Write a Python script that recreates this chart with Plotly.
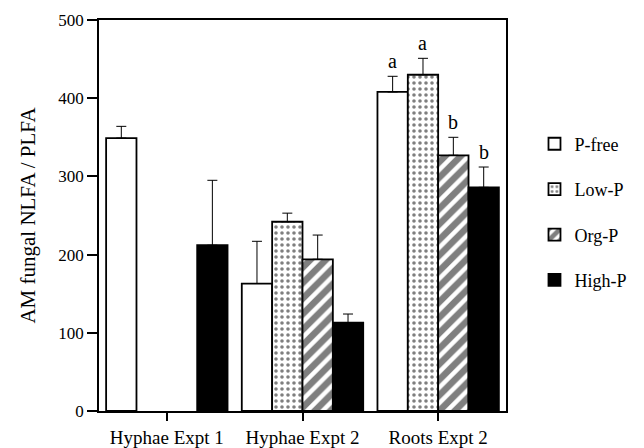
import plotly.graph_objects as go

groups = ["Hyphae Expt 1", "Hyphae Expt 2", "Roots Expt 2"]
treatments = ["P-free", "Low-P", "Org-P", "High-P"]
means = {
    "P-free": [349, 163, 408],
    "Low-P": [None, 242, 430],
    "Org-P": [None, 194, 327],
    "High-P": [212, 113, 286],
}
errors = {
    "P-free": [15, 54, 20],
    "Low-P": [0, 11, 21],
    "Org-P": [0, 31, 23],
    "High-P": [83, 11, 26],
}
letters_group = 2
letters = ["a", "a", "b", "b"]

FONT = "Liberation Serif"
bargap = 0.105
styles = {
    "P-free": dict(color="white", pattern=None),
    "Low-P": dict(color="white", pattern=dict(shape=".", fgcolor="black", bgcolor="white", size=6, solidity=0.28, fillmode="overlay")),
    "Org-P": dict(color="white", pattern=dict(shape="/", fgcolor="black", bgcolor="white", size=11, solidity=0.6, fillmode="overlay")),
    "High-P": dict(color="black", pattern=None),
}

fig = go.Figure()
for i, t in enumerate(treatments):
    st = styles[t]
    marker = dict(color=st["color"], line=dict(color="black", width=1.8))
    if st["pattern"]:
        marker["pattern"] = st["pattern"]
    fig.add_trace(go.Bar(
        x=groups, y=means[t], name=t, marker=marker,
        legendgroup=t,
        error_y=dict(type="data", symmetric=False, array=errors[t],
                     arrayminus=[0] * len(groups), color="black",
                     thickness=1, width=5),
    ))

bw = (1 - bargap) / len(treatments)
for i, (t, lab) in enumerate(zip(treatments, letters)):
    v = means[t][letters_group] + errors[t][letters_group]
    fig.add_annotation(x=letters_group + (i - 1.5) * bw, y=v, text=lab,
                       showarrow=False, yanchor="bottom", yshift=2,
                       font=dict(family=FONT, size=20, color="black"))

fig.update_layout(
    width=644, height=448,
    margin=dict(l=99, r=133, t=20, b=37),
    plot_bgcolor="white", paper_bgcolor="white",
    barmode="group", bargap=bargap, bargroupgap=0,
    font=dict(family=FONT, size=17, color="black"),
    showlegend=True,
    legend=dict(x=1.07, y=0.73, xanchor="left", yanchor="top",
                font=dict(family=FONT, size=18), tracegroupgap=19,
                bgcolor="rgba(0,0,0,0)"),
)
fig.update_xaxes(
    showline=True, linecolor="black", linewidth=1.5, mirror=True,
    ticks="outside", ticklen=8, tickcolor="black", tickwidth=1.5,
    range=[-0.5, 2.5], showgrid=False, automargin=False,
    tickfont=dict(family=FONT, size=19),
)
fig.update_yaxes(
    range=[0, 500], tickvals=[0, 100, 200, 300, 400, 500],
    showline=True, linecolor="black", linewidth=1.5, mirror=True,
    ticks="outside", ticklen=10, tickcolor="black", tickwidth=1.5,
    showgrid=False, zeroline=False, automargin=False,
    tickfont=dict(family=FONT, size=17),
    title=dict(text="AM fungal NLFA / PLFA", font=dict(family=FONT, size=21), standoff=17),
)
fig.write_html("out.html")
